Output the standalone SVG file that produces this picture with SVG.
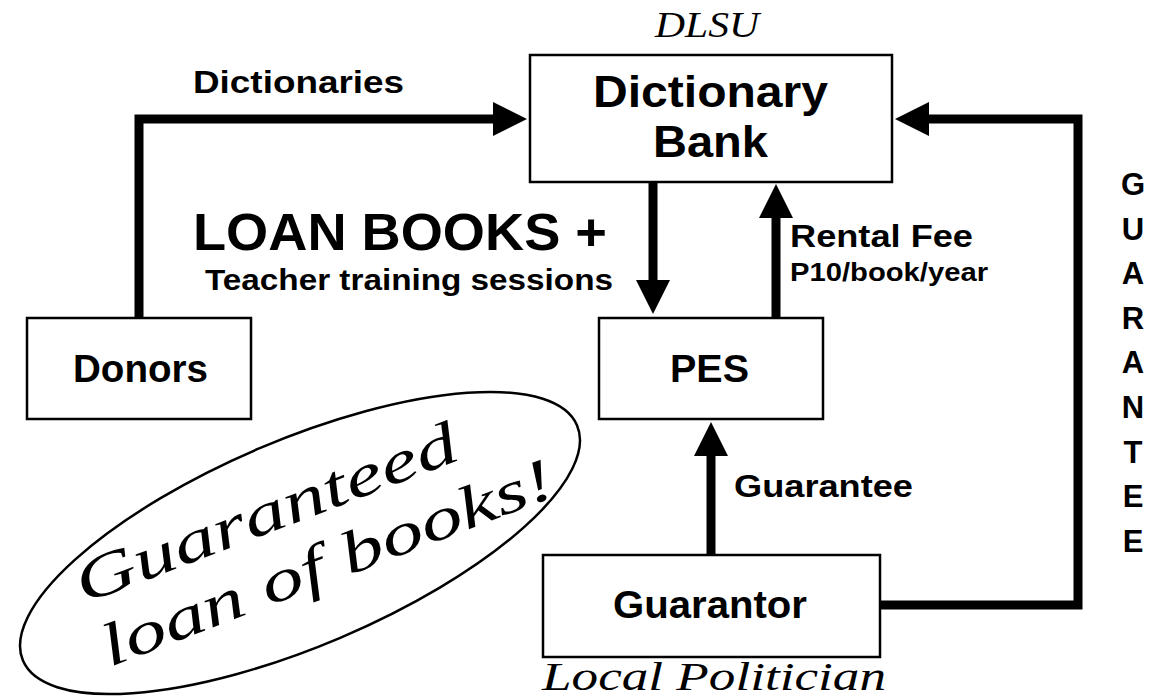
<svg xmlns="http://www.w3.org/2000/svg" width="1150" height="698" viewBox="0 0 1150 698">
<style>
.box{fill:#fff;stroke:#000;stroke-width:2.5}
.b{font-family:"Liberation Sans",Arial,sans-serif;font-weight:bold;fill:#000}
.s{font-family:"Liberation Serif","DejaVu Serif",serif;font-style:italic;fill:#000}
.c{fill:none;stroke:#000;stroke-width:9;stroke-linejoin:miter}
</style>
<defs>
<marker id="ah" markerUnits="userSpaceOnUse" markerWidth="36" markerHeight="36" refX="1" refY="17" orient="auto" viewBox="0 0 36 34">
<path d="M0,0 L34,17 L0,34 Z" fill="#000"/>
</marker>
</defs>
<rect width="1150" height="698" fill="#fff"/>

<g id="connectors">
<path class="c" d="M139,318 V119 H494" marker-end="url(#ah)"/>
<path class="c" d="M880,605 H1078 V119 H928" marker-end="url(#ah)"/>
<path class="c" d="M653,182 V281" marker-end="url(#ah)"/>
<path class="c" d="M776,318 V217" marker-end="url(#ah)"/>
<path class="c" d="M711,555 V455" marker-end="url(#ah)"/>
</g>

<g id="dictionary-bank">
<rect class="box" x="530" y="55" width="362" height="127"/>
<text class="b" x="593" y="107" font-size="45" textLength="235" lengthAdjust="spacingAndGlyphs">Dictionary</text>
<text class="b" x="653" y="157" font-size="45" textLength="115" lengthAdjust="spacingAndGlyphs">Bank</text>
<text class="s" x="655" y="37" font-size="36" textLength="104" lengthAdjust="spacingAndGlyphs">DLSU</text>
</g>

<g id="donors">
<rect class="box" x="27" y="318" width="224" height="101"/>
<text class="b" x="73" y="382" font-size="38" textLength="135" lengthAdjust="spacingAndGlyphs">Donors</text>
</g>

<g id="pes">
<rect class="box" x="599" y="318" width="224" height="101"/>
<text class="b" x="670" y="382" font-size="38" textLength="79" lengthAdjust="spacingAndGlyphs">PES</text>
</g>

<g id="guarantor">
<rect class="box" x="543" y="555" width="337" height="102"/>
<text class="b" x="613" y="618" font-size="38" textLength="194" lengthAdjust="spacingAndGlyphs">Guarantor</text>
<text class="s" x="542" y="690" font-size="40" textLength="344" lengthAdjust="spacingAndGlyphs">Local Politician</text>
</g>

<g id="labels">
<text class="b" x="193" y="93" font-size="32" textLength="211" lengthAdjust="spacingAndGlyphs">Dictionaries</text>
<text class="b" x="193" y="250" font-size="52" textLength="414" lengthAdjust="spacingAndGlyphs">LOAN BOOKS +</text>
<text class="b" x="205" y="290" font-size="30" textLength="408" lengthAdjust="spacingAndGlyphs">Teacher training sessions</text>
<text class="b" x="790" y="247" font-size="32" textLength="183" lengthAdjust="spacingAndGlyphs">Rental Fee</text>
<text class="b" x="790" y="281" font-size="25" textLength="198" lengthAdjust="spacingAndGlyphs">P10/book/year</text>
<text class="b" x="734" y="497" font-size="31" textLength="179" lengthAdjust="spacingAndGlyphs">Guarantee</text>
<g class="b" font-size="31" text-anchor="middle">
<text x="1133" y="195">G</text>
<text x="1133" y="239.6">U</text>
<text x="1133" y="284.2">A</text>
<text x="1133" y="328.8">R</text>
<text x="1133" y="373.4">A</text>
<text x="1133" y="418">N</text>
<text x="1133" y="462.6">T</text>
<text x="1133" y="507.2">E</text>
<text x="1133" y="551.8">E</text>
</g>
</g>

<g id="callout">
<ellipse cx="300" cy="543" rx="301" ry="103" transform="rotate(-23 300 543)" fill="none" stroke="#000" stroke-width="2.5"/>
<text class="s" font-size="60" transform="translate(84,604) rotate(-21)" textLength="405" lengthAdjust="spacingAndGlyphs">Guaranteed</text>
<text class="s" font-size="60" transform="translate(110,667) rotate(-21)" textLength="480" lengthAdjust="spacingAndGlyphs">loan of books!</text>
</g>
</svg>
